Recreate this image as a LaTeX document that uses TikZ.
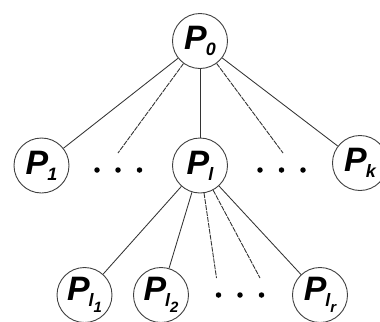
\documentclass[tikz,border=0pt]{standalone}
\usepackage{fontspec}
\setmainfont{Liberation Sans}
\newcommand\subA[1]{\kern-1bp\raisebox{-6bp}{\fontsize{18}{18}\selectfont\bfseries\itshape #1}}
\newcommand\subB[2]{\kern-1bp\raisebox{-6bp}{\fontsize{18}{18}\selectfont\bfseries\itshape #1\raisebox{-6bp}{\fontsize{15}{15}\selectfont #2}}}
\newcommand\bigP{{\fontsize{34}{36}\selectfont\bfseries\itshape P}}
\begin{document}
\begin{tikzpicture}[x=1bp,y=-1bp,
  proc/.style={circle,draw=black!75,line width=0.9bp,minimum size=55bp,inner sep=0pt,fill=white},
  edge/.style={draw=black!80,line width=0.85bp},
  dedge/.style={draw=black!80,line width=0.9bp,dash pattern=on 5bp off 1bp},
  dotn/.style={circle,fill=black,inner sep=0pt,minimum size=5.5bp}]
\useasboundingbox (0,0) rectangle (380,322);
% nodes
\node[proc] (P0) at (200,41) {\bigP\subA{0}};
\node[proc] (P1) at (41.5,165.5) {\bigP\subA{1}};
\node[proc] (Pl) at (200,165.5) {\bigP\subA{l}};
\node[proc] (Pk) at (360,163) {\bigP\subA{k}};
\node[proc] (Pl1) at (84.5,295) {\bigP\subB{l}{1}};
\node[proc] (Pl2) at (161,295) {\bigP\subB{l}{2}};
\node[proc] (Plr) at (320,295) {\bigP\subB{l}{r}};
% dots
\node[dotn] (d1) at (97,170) {};
\node[dotn] (d2) at (118,170) {};
\node[dotn] (d3) at (139.5,170) {};
\node[dotn] (d4) at (260,170) {};
\node[dotn] (d5) at (281.5,170) {};
\node[dotn] (d6) at (303,170) {};
\node[dotn] (d7) at (218.5,295) {};
\node[dotn] (d8) at (240,295) {};
\node[dotn] (d9) at (261.5,295) {};
% free ends
\coordinate (e1) at (118,153);
\coordinate (e2) at (283,153);
\coordinate (e3) at (216.5,278);
\coordinate (e4) at (260,278);
% connectors
\draw[edge] (P0) -- (P1);
\draw[edge] (P0) -- (Pl);
\draw[edge] (P0) -- (Pk);
\draw[dedge] (P0) -- (e1);
\draw[dedge] (P0) -- (e2);
\draw[edge] (Pl) -- (Pl1);
\draw[edge] (Pl) -- (Pl2);
\draw[edge] (Pl) -- (Plr);
\draw[dedge] (Pl) -- (e3);
\draw[dedge] (Pl) -- (e4);
\end{tikzpicture}
\end{document}
